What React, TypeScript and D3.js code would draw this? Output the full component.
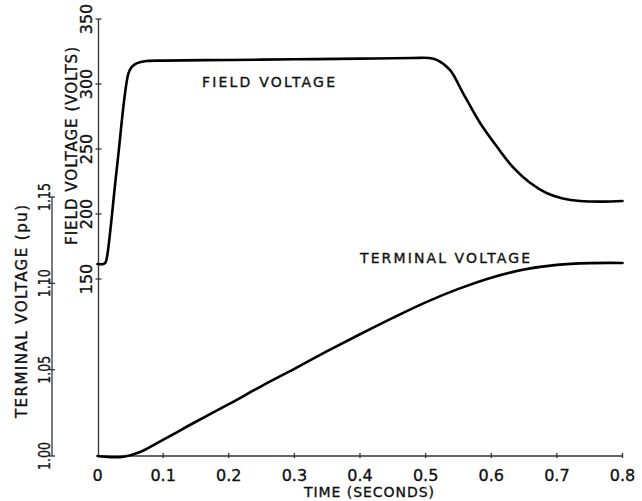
import React from "react";
import * as d3 from "d3";

const timeTicks = [0, 0.1, 0.2, 0.3, 0.4, 0.5, 0.6, 0.7, 0.8];
const timeTickLabels = ["0", "0.1", "0.2", "0.3", "0.4", "0.5", "0.6", "0.7", "0.8"];
const fieldTicks = [150, 200, 250, 300, 350];
const terminalTicks = [1.0, 1.05, 1.1, 1.15];
const terminalTickLabels = ["1.00", "1.05", "1.10", "1.15"];

const fieldTime = [0, 0.009, 0.012, 0.0145, 0.03, 0.047, 0.052, 0.058, 0.066, 0.075, 0.1, 0.2, 0.3, 0.4, 0.48, 0.505, 0.517, 0.537, 0.557, 0.583, 0.609, 0.633, 0.659, 0.685, 0.709, 0.735, 0.77, 0.8];
const fieldVolts = [161.5, 161.5, 162.5, 167, 237.5, 308, 313, 315.5, 317, 317.7, 318, 318.5, 319, 319.5, 320, 320, 318.5, 310.8, 293, 270, 251.5, 236, 224, 216, 212, 210, 209.5, 210];

const termTime = [0, 0.02, 0.04, 0.065, 0.09, 0.115, 0.14, 0.2, 0.25, 0.3, 0.35, 0.4, 0.45, 0.5, 0.55, 0.6, 0.65, 0.7, 0.75, 0.8];
const termPu = [1.0, 0.9993, 0.9996, 1.0023, 1.0073, 1.0125, 1.0178, 1.03, 1.0405, 1.0505, 1.0607, 1.0705, 1.08, 1.089, 1.0968, 1.1033, 1.108, 1.1107, 1.1117, 1.1118];

const W = 642;
const H = 501;
const FONT = "'DejaVu Sans', sans-serif";
const INK = "#111";

export default function App() {
  const x = d3.scaleLinear().domain([0, 0.8]).range([97.5, 622.5]);
  const yField = d3.scaleLinear().domain([150, 350]).range([279, 19]);
  const yTerm = d3.scaleLinear().domain([1.0, 1.15]).range([456, 197]);
  const axisY = yTerm(1.0);
  const fieldAxisX = x(0) + 1;
  const termAxisX = 52;

  const curve = d3.curveCatmullRom.alpha(0.5);
  const fieldLine = d3
    .line<number>()
    .x((_, i) => x(fieldTime[i]))
    .y((d) => yField(d))
    .curve(curve);
  const termLine = d3
    .line<number>()
    .x((_, i) => x(termTime[i]))
    .y((d) => yTerm(d))
    .curve(curve);

  const axisStroke = "#333";
  const txt = { fill: INK, stroke: INK, strokeWidth: 0.35 };
  return (
    <svg
      width={W}
      height={H}
      style={{ position: "absolute", left: 0, top: 0, background: "#fff" }}
      fontFamily={FONT}
    >
      <rect width={W} height={H} fill="#fff" />
      {/* X axis */}
      <line x1={x(0)} x2={x(0.8)} y1={axisY} y2={axisY} stroke={axisStroke} strokeWidth={1.3} />
      {timeTicks.map((t, i) => (
        <g key={"xt" + i}>
          {i > 0 && (
            <line x1={x(t)} x2={x(t)} y1={axisY - 3} y2={axisY + 2} stroke={axisStroke} strokeWidth={1.3} />
          )}
          <text x={x(t)} y={axisY + 25} textAnchor="middle" fontSize={16} {...txt}>
            {timeTickLabels[i]}
          </text>
        </g>
      ))}
      <text x={304} y={497} fontSize={14} textLength={130} lengthAdjust="spacing" {...txt}>
        TIME (SECONDS)
      </text>

      {/* Field voltage axis */}
      <line x1={fieldAxisX} x2={fieldAxisX} y1={yField(350)} y2={axisY} stroke={axisStroke} strokeWidth={1.3} />
      {fieldTicks.map((v, i) => (
        <g key={"ft" + i}>
          <line x1={fieldAxisX - 3} x2={fieldAxisX + 3} y1={yField(v)} y2={yField(v)} stroke={axisStroke} strokeWidth={1.3} />
          <text
            transform={`translate(${fieldAxisX - 7},${yField(v)}) rotate(-90)`}
            textAnchor="middle"
            fontSize={16}
            {...txt}
          >
            {String(v)}
          </text>
        </g>
      ))}
      <text
        transform={`translate(77,245) rotate(-90)`}
        fontSize={15}
        textLength={198}
        lengthAdjust="spacing"
        {...txt}
      >
        FIELD VOLTAGE (VOLTS)
      </text>

      {/* Terminal voltage axis */}
      <line x1={termAxisX} x2={termAxisX} y1={yTerm(1.15)} y2={yTerm(1.0)} stroke={axisStroke} strokeWidth={1.3} />
      {terminalTicks.map((v, i) => (
        <g key={"tt" + i}>
          <line x1={termAxisX - 3} x2={termAxisX + 3} y1={yTerm(v)} y2={yTerm(v)} stroke={axisStroke} strokeWidth={1.3} />
          <text
            transform={`translate(${termAxisX - 2},${yTerm(v) + 14}) rotate(-90)`}
            fontSize={15}
            textLength={28}
            lengthAdjust="spacingAndGlyphs"
            {...txt}
          >
            {terminalTickLabels[i]}
          </text>
        </g>
      ))}
      <text
        transform={`translate(27,418) rotate(-90)`}
        fontSize={15}
        textLength={213}
        lengthAdjust="spacing"
        {...txt}
      >
        TERMINAL VOLTAGE (pu)
      </text>

      {/* Curves */}
      <path d={fieldLine(fieldVolts) || ""} fill="none" stroke="#000" strokeWidth={2.6} strokeLinejoin="round" strokeLinecap="round" />
      <path d={termLine(termPu) || ""} fill="none" stroke="#000" strokeWidth={2.6} strokeLinejoin="round" strokeLinecap="round" />

      {/* In-plot labels */}
      <text x={202} y={87} fontSize={14} textLength={133} lengthAdjust="spacing" {...txt}>
        FIELD VOLTAGE
      </text>
      <text x={360} y={263} fontSize={14} textLength={170} lengthAdjust="spacing" {...txt}>
        TERMINAL VOLTAGE
      </text>
    </svg>
  );
}
